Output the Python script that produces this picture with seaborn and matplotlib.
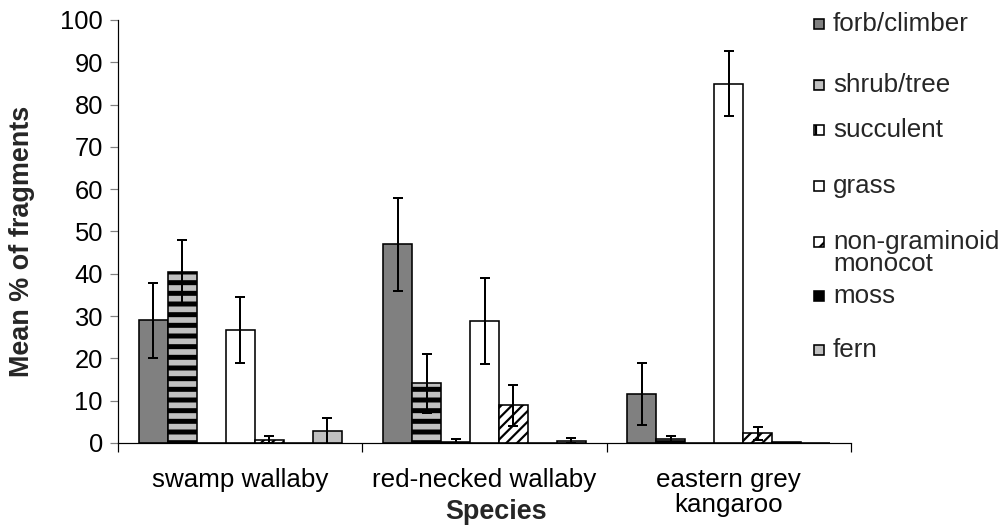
import numpy as np
import pandas as pd
import matplotlib
matplotlib.use("Agg")
import matplotlib.pyplot as plt
from matplotlib.patches import Rectangle
import seaborn as sns

# ---------------- data ----------------
species = ["swamp wallaby", "red-necked wallaby", "eastern grey\nkangaroo"]
food_types = ["forb/climber", "shrub/tree", "succulent", "grass",
              "non-graminoid\nmonocot", "moss", "fern"]

forb_climber = [29.0, 47.0, 11.5]
shrub_tree = [40.5, 14.1, 1.0]
succulent = [0.0, 0.3, 0.0]
grass = [26.8, 28.8, 84.9]
non_graminoid = [0.8, 8.9, 2.3]
moss = [0.0, 0.0, 0.3]
fern = [2.8, 0.5, 0.1]

forb_climber_err = [8.8, 11.0, 7.3]
shrub_tree_err = [7.4, 7.0, 0.7]
succulent_err = [0.0, 0.7, 0.0]
grass_err = [7.8, 10.1, 7.7]
non_graminoid_err = [0.9, 4.8, 1.5]
moss_err = [0.0, 0.0, 0.0]
fern_err = [3.2, 0.6, 0.0]

values = [forb_climber, shrub_tree, succulent, grass, non_graminoid, moss, fern]
errors = [forb_climber_err, shrub_tree_err, succulent_err, grass_err,
          non_graminoid_err, moss_err, fern_err]

df = pd.DataFrame({
    "species": [s for _ in food_types for s in species],
    "type": [t for t in food_types for _ in species],
    "value": [v for vals in values for v in vals],
})

# ---------------- style ----------------
DPI = 64
W, H = 1008, 529
def P(px):
    return px * 72.0 / DPI

sns.set_theme(style="white")
plt.rcParams["font.family"] = ["Liberation Sans", "DejaVu Sans"]
plt.rcParams["hatch.linewidth"] = P(2.2)

face = ["#808080", "#c0c0c0", "#ffffff", "#ffffff", "#ffffff", "#000000", "#c0c0c0"]
hatches = ["", "-", "|", "", "//", "", ""]
hatch_lw = [None, P(5), P(3), None, P(2.2), None, None]
FS = P(26)
FS_Y = P(25.5)
FS_B = P(27)

fig = plt.figure(figsize=(W / DPI, H / DPI), dpi=DPI)
ax = fig.add_axes([118 / W, 1 - 443 / H, (851 - 118) / W, (443 - 20) / H])

sns.barplot(data=df, x="species", y="value", hue="type", order=species,
            hue_order=food_types, palette=face, saturation=1, width=0.83,
            errorbar=None, edgecolor="black", linewidth=P(1.6), ax=ax,
            legend=False)

bar_containers = list(ax.containers)
for i, cont in enumerate(bar_containers):
    for j, bar in enumerate(cont):
        bar.set_hatch(hatches[i])
        if hatch_lw[i] is not None and hasattr(bar, "set_hatch_linewidth"):
            bar.set_hatch_linewidth(hatch_lw[i])
        e = errors[i][j]
        if e > 0:
            x = bar.get_x() + bar.get_width() / 2
            ax.errorbar(x, bar.get_height(), yerr=e, fmt="none", ecolor="black",
                        elinewidth=P(2), capsize=P(5), capthick=P(2), zorder=5)

ax.set_xlim(-0.5, 2.5)
ax.set_ylim(0, 100)
ax.set_yticks(np.arange(0, 101, 10))
ax.set_xlabel("")
ax.set_ylabel("")
for s in ["top", "right"]:
    ax.spines[s].set_visible(False)
for s in ["left", "bottom"]:
    ax.spines[s].set_color("black")
    ax.spines[s].set_linewidth(P(1.2))

ax.tick_params(axis="y", which="major", left=True, direction="out", length=P(8),
               width=P(1.2), color="#808080", labelsize=FS_Y, pad=P(7),
               labelcolor="black")
ax.set_xticks([0, 1, 2])
ax.set_xticklabels(species, linespacing=1.03)
ax.set_xticks([-0.5, 0.5, 1.5, 2.5], minor=True)
ax.tick_params(axis="x", which="major", bottom=True, length=0, labelsize=FS,
               pad=P(25), labelcolor="black")
ax.tick_params(axis="x", which="minor", bottom=True, direction="out",
               length=P(9), width=P(1.2), color="black")

fig.text(22 / W, 1 - 241 / H, "Mean % of fragments", rotation=90, ha="center",
         va="center", fontsize=FS_B, fontweight="bold")
fig.text(496 / W, 1 - 512 / H, "Species", ha="center", va="center",
         fontsize=FS_B, fontweight="bold")

# ---------------- legend ----------------
rows = [24, 85, 130, 186, 242, 296, 350]
for i, t in enumerate(food_types):
    yc = rows[i]
    r = Rectangle((814 / W, 1 - (yc + 5) / H), 10 / W, 10 / H,
                  transform=fig.transFigure, facecolor=face[i],
                  edgecolor="black", linewidth=P(1.6),
                  hatch=hatches[i].replace("//", "/"))
    fig.add_artist(r)
    lines = t.split("\n")
    fig.text(833 / W, 1 - yc / H, lines[0], ha="left", va="center", fontsize=FS)
    for k, extra in enumerate(lines[1:]):
        fig.text(833 / W, 1 - (yc + 22 * (k + 1)) / H, extra, ha="left",
                 va="center", fontsize=FS)

fig.savefig("out.png", dpi=DPI, facecolor="white")
